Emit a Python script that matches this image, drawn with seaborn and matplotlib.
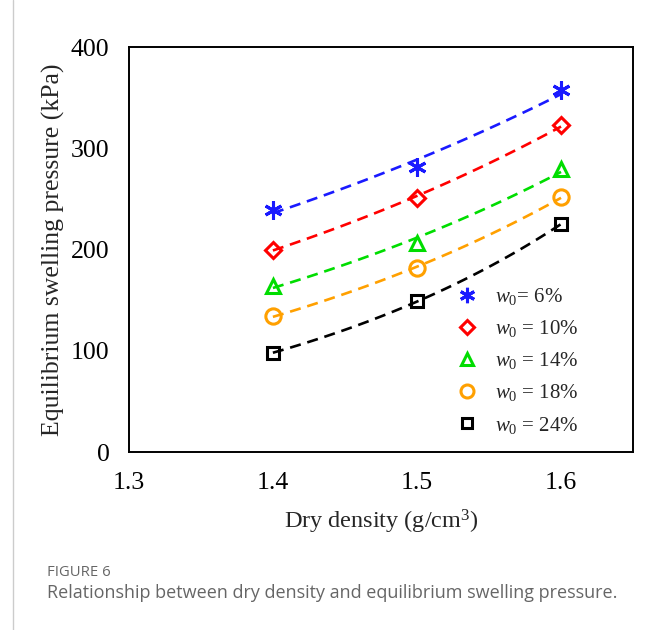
import numpy as np
import matplotlib
matplotlib.use("Agg")
import matplotlib.pyplot as plt
import seaborn as sns
from matplotlib.lines import Line2D

# ==========================
# Dados
# ==========================
densidade = [1.4, 1.5, 1.6]
p_w6 = [239, 282, 358]
p_w10 = [200, 251, 323]
p_w14 = [164, 207, 280]
p_w18 = [134, 182, 252]
p_w24 = [98, 149, 225]

rotulos = [r"$w_0$= 6%", r"$w_0$ = 10%", r"$w_0$ = 14%", r"$w_0$ = 18%", r"$w_0$ = 24%"]
series = [p_w6, p_w10, p_w14, p_w18, p_w24]
cores = ["#1a1aff", "#ff0000", "#00dd00", "#ffa000", "#000000"]
marcadores = [(6, 2, 0), "D", "^", "o", "s"]
tamanhos = [13, 8.5, 10.5, 11, 9]

sns.set_theme(style="white")
plt.rcParams["font.family"] = ["Liberation Serif", "DejaVu Serif"]
plt.rcParams["mathtext.fontset"] = "custom"
plt.rcParams["mathtext.rm"] = "Liberation Serif"
plt.rcParams["mathtext.it"] = "Liberation Serif:italic"

fig = plt.figure(figsize=(6.54, 6.30), dpi=100)
ax = fig.add_axes([0.197, 0.2825, 0.771, 0.6425])

handles = []
for p, cor, mk, ms, lab in zip(series, cores, marcadores, tamanhos, rotulos):
    # ajuste exponencial (linha tracejada)
    coef = np.polyfit(densidade, np.log(p), 1)
    xs = np.linspace(densidade[0], densidade[-1], 60)
    ys = np.exp(np.polyval(coef, xs))
    sns.lineplot(x=xs, y=ys, color=cor, linewidth=1.9, ax=ax)
    ax.lines[-1].set_dashes((4.2, 2.6))
    sns.lineplot(x=densidade, y=p, ax=ax, linestyle="none", marker=mk,
                 markersize=ms, markerfacecolor="none", markeredgecolor=cor,
                 markeredgewidth=2.2, color=cor)
    handles.append(Line2D([], [], linestyle="none", marker=mk, markersize=ms * 0.85,
                          markerfacecolor="none", markeredgecolor=cor,
                          markeredgewidth=2.2, label=lab))

ax.set_xlim(1.3, 1.65)
ax.set_ylim(0, 400)
ax.set_xticks([1.3, 1.4, 1.5, 1.6])
ax.set_xticklabels(["1.3", "1.4", "1.5", "1.6"])
ax.set_yticks([0, 100, 200, 300, 400])
for s in ax.spines.values():
    s.set_linewidth(1.4)
    s.set_color("black")
ax.tick_params(direction="in", length=6, width=1.3, labelsize=18.5, colors="black")
ax.tick_params(axis="x", pad=14.5)
ax.tick_params(axis="y", pad=14)
ax.set_xlabel(r"Dry density (g/cm$^3$)", fontsize=17.5, labelpad=10)
ax.set_ylabel("Equilibrium swelling pressure (kPa)", fontsize=18.5, labelpad=4.5)

ax.legend(handles=handles, loc="upper left", bbox_to_anchor=(0.63, 0.435),
          frameon=False, fontsize=15, handlelength=1.0, handletextpad=0.85,
          labelspacing=0.53, borderpad=0)

# moldura da página e legenda da figura
fig.add_artist(Line2D([0.02, 0.02], [0, 1], color="#cccccc", linewidth=1))
fig.text(0.072, 0.091, "FIGURE 6", fontsize=10.7, color="#666666",
         family=["Open Sans", "DejaVu Sans"], va="center")
fig.text(0.072, 0.058, "Relationship between dry density and equilibrium swelling pressure.",
         fontsize=13, color="#666666", family=["Open Sans", "DejaVu Sans"], va="center")

fig.savefig("out.png", dpi=100)
